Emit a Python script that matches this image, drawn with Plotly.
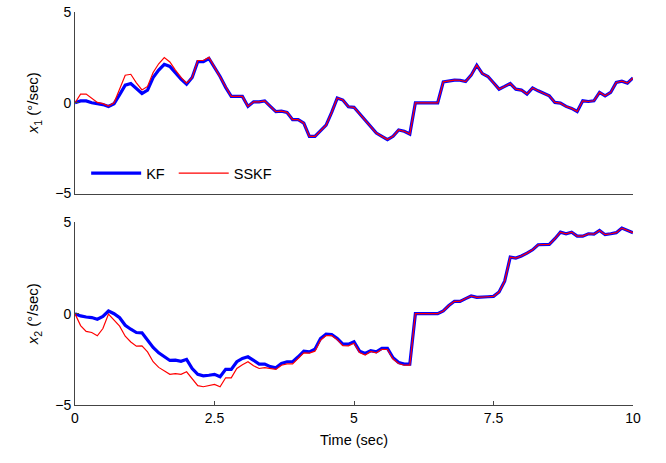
import plotly.graph_objects as go
from plotly.subplots import make_subplots

t = [round(i * 0.1, 1) for i in range(101)]

x1_kf = [0.0, 0.1, 0.1, 0.0, -0.05, -0.1, -0.2, -0.05, 0.45, 0.97,
         1.06, 0.8, 0.51, 0.7, 1.39, 1.8, 2.12, 2.0, 1.65, 1.3,
         1.02, 1.39, 2.27, 2.27, 2.44, 1.95, 1.45, 0.85, 0.35, 0.35,
         0.35, -0.2, 0.05, 0.05, 0.1, -0.2, -0.49, -0.46, -0.53, -0.93,
         -0.93, -1.12, -1.85, -1.85, -1.55, -1.23, -0.53, 0.26, 0.15, -0.22,
         -0.25, -0.6, -0.93, -1.3, -1.67, -1.85, -2.03, -1.85, -1.5, -1.57,
         -1.72, 0.0, 0.0, 0.0, 0.0, 0.0, 1.15, 1.2, 1.25, 1.24,
         1.17, 1.52, 2.07, 1.61, 1.45, 1.1, 0.75, 0.9, 1.06, 0.75,
         0.7, 0.48, 0.82, 0.66, 0.51, 0.38, 0.02, -0.02, -0.2, -0.31,
         -0.48, 0.11, 0.07, 0.11, 0.57, 0.38, 0.57, 1.12, 1.19, 1.08,
         1.37]

x1_sskf = [0.0, 0.48, 0.48, 0.25, 0.02, -0.05, -0.18, 0.0, 0.8, 1.52,
           1.57, 1.1, 0.71, 0.9, 1.67, 2.15, 2.49, 2.25, 1.8, 1.4,
           1.08, 1.39, 2.33, 2.33, 2.5, 1.95, 1.45, 0.85, 0.35, 0.35,
           0.35, -0.2, 0.05, 0.05, 0.1, -0.2, -0.49, -0.46, -0.53, -0.93,
           -0.93, -1.12, -1.85, -1.85, -1.55, -1.23, -0.53, 0.26, 0.15, -0.22,
           -0.25, -0.6, -0.93, -1.3, -1.67, -1.85, -2.03, -1.85, -1.5, -1.57,
           -1.72, 0.0, 0.0, 0.0, 0.0, 0.0, 1.15, 1.2, 1.25, 1.24,
           1.17, 1.52, 2.07, 1.61, 1.45, 1.1, 0.75, 0.9, 1.06, 0.75,
           0.7, 0.48, 0.82, 0.66, 0.51, 0.38, 0.02, -0.02, -0.2, -0.31,
           -0.48, 0.11, 0.07, 0.11, 0.57, 0.38, 0.57, 1.12, 1.19, 1.08,
           1.37]

x2_kf = [0.0, -0.12, -0.18, -0.21, -0.3, -0.15, 0.15, 0.0, -0.22, -0.63,
         -0.85, -1.03, -1.05, -1.45, -1.85, -2.14, -2.36, -2.56, -2.54, -2.61,
         -2.5, -3.0, -3.32, -3.4, -3.37, -3.32, -3.45, -3.05, -3.05, -2.63,
         -2.45, -2.36, -2.55, -2.76, -2.76, -2.9, -2.96, -2.72, -2.63, -2.63,
         -2.36, -2.05, -2.09, -1.94, -1.36, -1.12, -1.14, -1.36, -1.67, -1.67,
         -1.54, -2.05, -2.18, -2.03, -2.09, -1.9, -1.9, -2.41, -2.67, -2.76,
         -2.76, 0.0, 0.0, 0.0, 0.0, 0.0, 0.15, 0.45, 0.68, 0.68,
         0.83, 0.97, 0.9, 0.9, 0.93, 0.95, 1.19, 1.78, 3.1, 3.05,
         3.16, 3.32, 3.5, 3.78, 3.78, 3.8, 4.11, 4.47, 4.38, 4.47,
         4.25, 4.25, 4.38, 4.36, 4.56, 4.33, 4.38, 4.44, 4.69, 4.56,
         4.44]

x2_sskf = [0.0, -0.65, -0.97, -1.03, -1.21, -0.81, -0.02, -0.35, -0.68, -1.23,
           -1.55, -1.78, -1.76, -2.09, -2.63, -2.94, -3.14, -3.32, -3.28, -3.32,
           -3.18, -3.54, -3.94, -4.0, -3.95, -3.87, -4.0, -3.51, -3.51, -3.0,
           -2.8, -2.63, -2.85, -3.0, -2.95, -3.0, -3.05, -2.82, -2.75, -2.75,
           -2.45, -2.14, -2.16, -2.05, -1.45, -1.2, -1.2, -1.42, -1.75, -1.76,
           -1.62, -2.12, -2.26, -2.07, -2.14, -1.95, -1.96, -2.48, -2.73, -2.82,
           -2.82, 0.0, 0.0, 0.0, 0.0, 0.0, 0.15, 0.45, 0.68, 0.68,
           0.83, 0.97, 0.9, 0.9, 0.93, 0.95, 1.19, 1.78, 3.1, 3.05,
           3.16, 3.32, 3.5, 3.78, 3.78, 3.8, 4.11, 4.47, 4.38, 4.47,
           4.25, 4.25, 4.38, 4.36, 4.56, 4.33, 4.38, 4.44, 4.69, 4.56,
           4.44]

x_ticks = [0, 2.5, 5, 7.5, 10]
x_tick_text = ["0", "2.5", "5", "7.5", "10"]
y_ticks = [-5, 0, 5]
y_tick_text = ["\u22125", "0", "5"]

BLUE = "#0000FF"
RED = "#FF0000"
AX = "#444444"
FONT = "Liberation Sans, Arial, sans-serif"

fig = make_subplots(rows=2, cols=1, shared_xaxes=False, vertical_spacing=0.07)

fig.add_trace(go.Scatter(x=t, y=x1_kf, mode="lines", name="KF\u00a0",
                         line=dict(color=BLUE, width=3.2)), row=1, col=1)
fig.add_trace(go.Scatter(x=t, y=x1_sskf, mode="lines", name="SSKF",
                         line=dict(color=RED, width=1.2)), row=1, col=1)
fig.add_trace(go.Scatter(x=t, y=x2_kf, mode="lines", name="KF", showlegend=False,
                         line=dict(color=BLUE, width=3.2)), row=2, col=1)
fig.add_trace(go.Scatter(x=t, y=x2_sskf, mode="lines", name="SSKF", showlegend=False,
                         line=dict(color=RED, width=1.2)), row=2, col=1)

common_x = dict(range=[0, 10], showgrid=False, zeroline=False, showline=True,
                linecolor=AX, linewidth=1, mirror=False)
common_y = dict(range=[-5, 5], tickvals=y_ticks, ticktext=y_tick_text,
                showgrid=False, zeroline=False, showline=True, linecolor=AX,
                linewidth=1, ticks="inside", ticklen=4, tickcolor=AX,
                tickfont=dict(family=FONT, size=14, color="#000"),
                title_font=dict(family=FONT, size=15, color="#000"),
                title_standoff=12)

fig.update_xaxes(**common_x, showticklabels=False, ticks="", row=1, col=1)
fig.update_xaxes(**common_x, tickvals=x_ticks, ticktext=x_tick_text,
                 ticks="inside", ticklen=4, tickcolor=AX,
                 tickfont=dict(family=FONT, size=14, color="#000"),
                 title=dict(text="Time (sec)", font=dict(family=FONT, size=14.5, color="#000"),
                            standoff=10),
                 row=2, col=1)
fig.update_yaxes(**common_y, title_text="<i>x</i><sub>1</sub> (°/sec)", row=1, col=1)
fig.update_yaxes(**common_y, title_text="<i>x</i><sub>2</sub> (°/sec)", row=2, col=1)

fig.update_layout(
    width=666, height=463,
    margin=dict(l=75, r=33, t=4, b=58),
    paper_bgcolor="white", plot_bgcolor="white",
    font=dict(family=FONT, size=14, color="#000"),
    showlegend=True,
    legend=dict(orientation="h", x=0.02, y=0.59, xanchor="left", yanchor="middle",
                bgcolor="rgba(0,0,0,0)", font=dict(family=FONT, size=14.5, color="#000"),
                itemwidth=50, tracegroupgap=0),
)
fig.layout.yaxis.domain = [0.538, 1.0]
fig.layout.yaxis2.domain = [0.0, 0.4645]

fig.write_html("out.html")
